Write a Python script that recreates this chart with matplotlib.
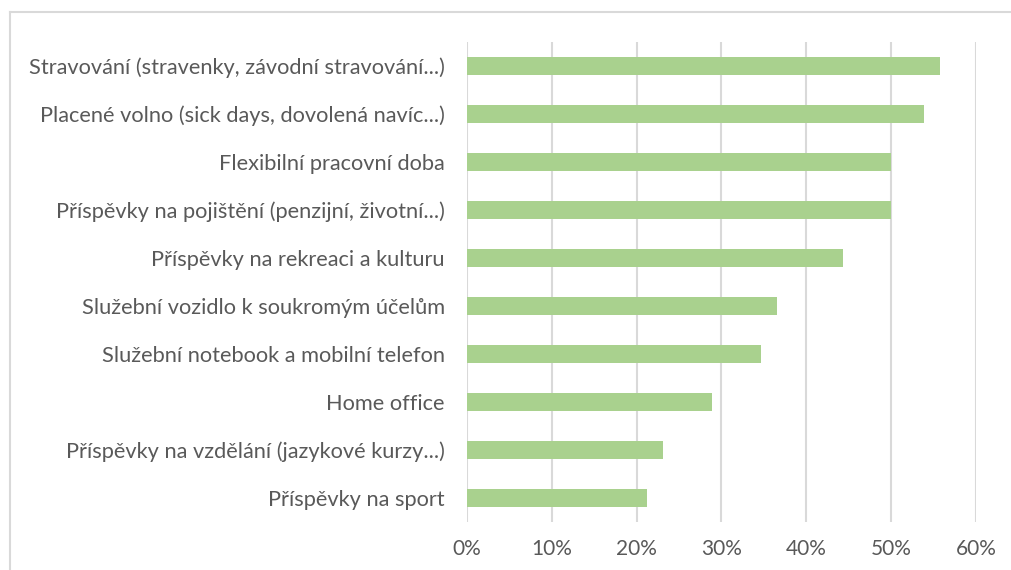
import matplotlib
matplotlib.use("Agg")
import matplotlib.pyplot as plt
from matplotlib.lines import Line2D

categories = [
    "Stravování (stravenky, závodní stravování...)",
    "Placené volno (sick days, dovolená navíc...)",
    "Flexibilní pracovní doba",
    "Příspěvky na pojištění (penzijní, životní...)",
    "Příspěvky na rekreaci a kulturu",
    "Služební vozidlo k soukromým účelům",
    "Služební notebook a mobilní telefon",
    "Home office",
    "Příspěvky na vzdělání (jazykové kurzy...)",
    "Příspěvky na sport",
]
values = [55.8, 53.9, 50.0, 50.0, 44.3, 36.6, 34.7, 28.9, 23.1, 21.2]
xticks = [0, 10, 20, 30, 40, 50, 60]
xticklabels = ["0%", "10%", "20%", "30%", "40%", "50%", "60%"]

plt.rcParams['font.family'] = ['Lato', 'DejaVu Sans']
W, H = 1012, 570
fig = plt.figure(figsize=(W / 100, H / 100), dpi=100)
ax = fig.add_axes([467 / W, 1 - 522 / H, (976 - 467) / W, (522 - 42) / H])

n = len(categories)
ypos = list(range(n))
ax.barh(ypos, values, height=0.37, color="#a9d18e", zorder=3)
ax.set_ylim(n - 0.5, -0.5)
ax.set_xlim(0, 60)
ax.set_xticks(xticks)
ax.set_xticklabels(xticklabels)
ax.set_yticks(ypos)
ax.set_yticklabels(categories)
ax.tick_params(axis='y', length=0, labelsize=15.7, colors="#595959", pad=16)
ax.tick_params(axis='x', length=0, labelsize=15, colors="#595959", pad=12)
ax.grid(axis='x', color="#d9d9d9", linewidth=1.5, zorder=0)
for s in ax.spines.values():
    s.set_visible(False)

# figure border
fig.add_artist(Line2D([10 / W, 10 / W], [0, 1 - 12 / H], transform=fig.transFigure,
                      color="#d9d9d9", linewidth=1.5))
fig.add_artist(Line2D([10 / W, 1], [1 - 12 / H, 1 - 12 / H], transform=fig.transFigure,
                      color="#d9d9d9", linewidth=1.5))

fig.savefig("out.png", dpi=100)
